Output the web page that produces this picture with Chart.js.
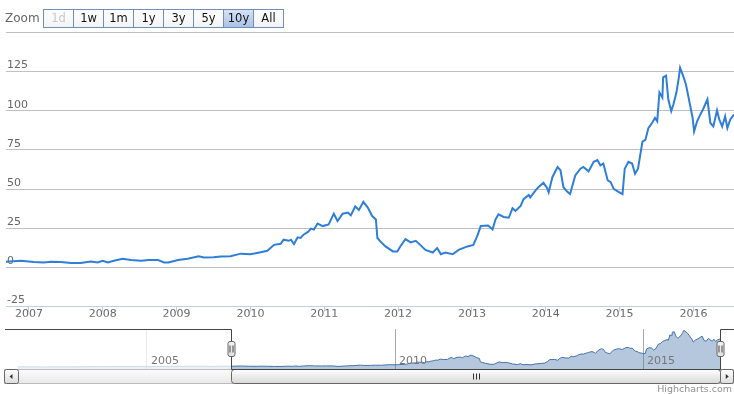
<!DOCTYPE html>
<html>
<head>
<meta charset="utf-8">
<script src="https://cdn.jsdelivr.net/npm/chart.js@4.4.1/dist/chart.umd.min.js"></script>
<style>
  body { margin: 0; background: #fff; }
  #box { position: relative; width: 734px; height: 394px; overflow: hidden; font-family: "DejaVu Sans", sans-serif; }
  #main { position: absolute; left: 0; top: 0; }
  #nav { position: absolute; left: 0; top: 320px; }
  .zlabel { position: absolute; left: 5px; top: 10px; font-size: 12px; line-height: 16px; color: #666; }
  .zbtn { position: absolute; top: 9px; width: 31px; height: 19px; box-sizing: border-box; border: 1px solid #6f8fb8;
          background: linear-gradient(#ffffff, #f3f3f3); font-size: 11.5px; line-height: 17px; text-align: center; color: #111; }
  .zbtn.on { background: linear-gradient(#d6e2f4, #a9c2e6); }
  .zbtn.off { color: #c8c8c8; }
  #credit { position: absolute; right: 2px; top: 383px; font-size: 9.5px; color: #909090; }
</style>
</head>
<body>
<div id="box">
  <canvas id="main" width="734" height="320"></canvas>
  <canvas id="nav" width="734" height="74"></canvas>
  <div class="zlabel">Zoom</div>
  <div id="zoom"></div>
  <div id="credit">Highcharts.com</div>
</div>
<script>
// decimal years, values (first few only show in the navigator)
const years = [
  2002.40, 2002.90, 2003.40, 2003.90, 2004.40, 2004.90, 2005.40, 2005.90, 2006.30,
  2006.69, 2006.89, 2007.07, 2007.20, 2007.30, 2007.43, 2007.57, 2007.70, 2007.84, 2007.93,
  2008.00, 2008.07, 2008.15, 2008.27, 2008.38, 2008.52, 2008.62, 2008.75, 2008.83, 2008.89,
  2009.02, 2009.15, 2009.30, 2009.37, 2009.50, 2009.60, 2009.73, 2009.87,
  2010.00, 2010.07, 2010.14, 2010.23, 2010.32, 2010.41, 2010.45, 2010.52, 2010.55, 2010.59,
  2010.64, 2010.68, 2010.72, 2010.78, 2010.82, 2010.86, 2010.91, 2010.98,
  2011.06, 2011.13, 2011.18, 2011.25, 2011.32, 2011.36, 2011.42, 2011.47, 2011.53, 2011.59,
  2011.65, 2011.70, 2011.72, 2011.76, 2011.83, 2011.93, 2011.99,
  2012.03, 2012.10, 2012.17, 2012.24, 2012.30, 2012.37, 2012.47, 2012.53, 2012.58, 2012.64,
  2012.74, 2012.82, 2012.94,
  2013.02, 2013.08, 2013.12, 2013.22, 2013.28, 2013.32, 2013.36, 2013.43, 2013.50, 2013.55,
  2013.59, 2013.66, 2013.70, 2013.77, 2013.79, 2013.86, 2013.90, 2013.97,
  2014.02, 2014.04, 2014.09, 2014.16, 2014.20, 2014.24, 2014.29, 2014.33, 2014.40, 2014.47,
  2014.51, 2014.58, 2014.65, 2014.70, 2014.74, 2014.78, 2014.84, 2014.88, 2014.92, 2014.98,
  2015.04, 2015.07, 2015.12, 2015.17, 2015.21, 2015.25, 2015.31, 2015.35, 2015.39, 2015.44,
  2015.48, 2015.51, 2015.54, 2015.58, 2015.59, 2015.63, 2015.66, 2015.70, 2015.73, 2015.77,
  2015.80, 2015.82, 2015.86, 2015.90, 2015.93, 2015.99,
  2016.01, 2016.05, 2016.09, 2016.13, 2016.19, 2016.23, 2016.27, 2016.32, 2016.35, 2016.39,
  2016.43, 2016.46, 2016.50, 2016.55
];
const prices = [
  1.5, 1.2, 1.4, 2.0, 2.6, 3.2, 2.9, 3.5, 3.3,
  3.7, 4.3, 3.4, 3.2, 3.7, 3.4, 2.8, 2.8, 3.7, 3.2,
  4.3, 3.2, 4.3, 5.6, 4.7, 4.3, 4.7, 4.7, 3.2, 3.2,
  4.7, 5.6, 7.1, 6.3, 6.5, 7.0, 7.1, 8.8,
  8.4, 9.0, 9.7, 10.6, 14.4, 15.1, 17.7, 17.0, 17.7, 14.9,
  19.2, 18.8, 20.9, 22.7, 24.8, 24.2, 28.0, 26.4,
  27.4, 34.3, 29.6, 34.3, 35.0, 33.2, 38.9, 36.7, 41.9, 38.2,
  32.8, 30.6, 18.8, 16.6, 13.4, 10.2, 10.2,
  13.4, 18.1, 16.0, 17.0, 14.4, 11.2, 9.5, 12.3, 8.4, 9.5,
  8.4, 11.2, 13.4,
  14.4, 20.9, 26.4, 26.8, 24.2, 30.6, 33.9, 32.2, 31.7, 37.8,
  36.1, 39.3, 43.6, 46.2, 44.7, 49.0, 51.2, 54.0,
  50.5, 47.9, 57.6, 64.1, 62.0, 51.2, 48.4, 46.8, 58.7, 63.0,
  64.1, 61.3, 67.4, 68.5, 65.2, 66.3, 55.5, 54.4, 50.1, 48.4,
  46.8, 63.0, 67.4, 66.3, 59.8, 63.0, 80.3, 81.4, 88.9, 92.2,
  95.4, 93.3, 111.6, 108.4, 121.3, 122.4, 107.3, 99.7, 104.1, 111.6,
  120.3, 127.4, 122.4, 116.6, 109.5, 95.4,
  86.8, 93.3, 97.2, 100.8, 107.3, 92.2, 90.0, 100.2, 94.4, 90.0,
  96.5, 88.9, 94.4, 97.6
];
const xTicks = [2007, 2008, 2009, 2010, 2011, 2012, 2013, 2014, 2015, 2016];
const yTicks = [-25, 0, 25, 50, 75, 100, 125, 150];
const navTicks = [2005, 2010, 2015];
const zoomButtons = ['1d', '1w', '1m', '1y', '3y', '5y', '10y', 'All'];
const selectedButton = '10y';
const rangeStart = 2006.69;
const rangeEnd = 2016.55;

const FONT = '"DejaVu Sans", sans-serif';
Chart.defaults.font.family = FONT;
Chart.defaults.font.size = 11;
Chart.defaults.color = '#666';

// range selector buttons
const zoom = document.getElementById('zoom');
zoomButtons.forEach((txt, i) => {
  const b = document.createElement('div');
  b.className = 'zbtn' + (txt === selectedButton ? ' on' : '') + (txt === '1d' ? ' off' : '');
  b.style.left = (43 + i * 30) + 'px';
  b.textContent = txt;
  zoom.appendChild(b);
});

const points = years.map((x, i) => ({ x: x, y: prices[i] }));

new Chart(document.getElementById('main'), {
  type: 'line',
  data: {
    datasets: [{
      data: points,
      borderColor: '#2f7ed8',
      borderWidth: 2,
      pointRadius: 0,
      tension: 0,
      fill: false
    }]
  },
  options: {
    responsive: false,
    animation: false,
    devicePixelRatio: 1,
    layout: { padding: { left: 4, right: 0, top: 32.4, bottom: 3.2 } },
    plugins: { legend: { display: false }, tooltip: { enabled: false } },
    scales: {
      x: {
        type: 'linear',
        min: rangeStart,
        max: rangeEnd,
        afterBuildTicks: s => { s.ticks = xTicks.map(v => ({ value: v })); },
        ticks: { padding: -4, maxRotation: 0, autoSkip: false, callback: v => String(v) },
        grid: { drawOnChartArea: false, drawTicks: true, tickLength: 5, color: '#C0D0E0' },
        border: { color: '#C0D0E0' }
      },
      y: {
        min: -25,
        max: 150,
        afterBuildTicks: s => { s.ticks = yTicks.map(v => ({ value: v })); },
        ticks: { mirror: true, padding: 1, labelOffset: -6, autoSkip: false,
                 callback: v => (v === 150 ? '' : String(v)) },
        grid: { color: '#C0C0C0', drawTicks: false },
        border: { display: false }
      }
    }
  }
});

function rrect(ctx, x, y, w, h, r, top, bottom) {
  const g = ctx.createLinearGradient(0, y, 0, y + h);
  g.addColorStop(0, top);
  g.addColorStop(1, bottom);
  ctx.beginPath();
  ctx.roundRect(x, y, w, h, r);
  ctx.fillStyle = g;
  ctx.fill();
  ctx.strokeStyle = '#666';
  ctx.stroke();
}

// mask, outline, handles and scrollbar under the navigator series
const navDecor = {
  id: 'navDecor',
  afterDraw(chart) {
    const { ctx, chartArea: a, scales: { x } } = chart;
    const W = chart.width;
    const x1 = Math.round(x.getPixelForValue(rangeStart)) + 0.5;
    const x2 = Math.round(x.getPixelForValue(rangeEnd)) + 0.5;
    ctx.save();
    ctx.lineWidth = 1;

    ctx.fillStyle = 'rgba(255,255,255,0.75)';
    ctx.fillRect(5, a.top, x1 - 5, a.bottom - a.top);
    ctx.fillRect(x2, a.top, W - x2, a.bottom - a.top);

    ctx.fillStyle = '#777';
    ctx.font = '11px ' + FONT;
    ctx.textBaseline = 'middle';
    ctx.textAlign = 'left';
    navTicks.forEach(v => ctx.fillText(String(v), x.getPixelForValue(v) + 4, a.bottom - 8));

    // scrollbar
    const sy = a.bottom + 0.5, sh = 14;
    const tg = ctx.createLinearGradient(0, sy, 0, sy + sh);
    tg.addColorStop(0, '#fcfcfc');
    tg.addColorStop(1, '#e8e8e8');
    ctx.fillStyle = tg;
    ctx.fillRect(4.5, sy, W - 5, sh);
    ctx.strokeStyle = '#bbb';
    ctx.strokeRect(4.5, sy, W - 5, sh);

    rrect(ctx, 4.5, sy, 14, sh, 2, '#ffffff', '#dcdcdc');
    rrect(ctx, x2, sy, W - 0.5 - x2, sh, 2, '#ffffff', '#dcdcdc');
    rrect(ctx, x1, sy, x2 - x1, sh, 3, '#ffffff', '#d8d8d8');

    ctx.fillStyle = '#333';
    ctx.beginPath();
    ctx.moveTo(9.5, sy + 7); ctx.lineTo(12.5, sy + 4.5); ctx.lineTo(12.5, sy + 9.5); ctx.closePath();
    ctx.fill();
    const rx = (x2 + W) / 2;
    ctx.beginPath();
    ctx.moveTo(rx + 1.5, sy + 7); ctx.lineTo(rx - 1.5, sy + 4.5); ctx.lineTo(rx - 1.5, sy + 9.5); ctx.closePath();
    ctx.fill();

    const cx = Math.round((x1 + x2) / 2) + 0.5;
    ctx.strokeStyle = '#333';
    ctx.beginPath();
    [-3, 0, 3].forEach(d => { ctx.moveTo(cx + d, sy + 4); ctx.lineTo(cx + d, sy + 10); });
    ctx.stroke();

    // outline
    const ty = a.top + 0.5;
    ctx.strokeStyle = '#444';
    ctx.beginPath();
    ctx.moveTo(5, ty);
    ctx.lineTo(x1, ty);
    ctx.lineTo(x1, sy);
    ctx.lineTo(x2, sy);
    ctx.lineTo(x2, ty);
    ctx.lineTo(W, ty);
    ctx.stroke();

    // handles
    [x1, x2].forEach(hx => {
      const hy = a.top + 12.5;
      rrect(ctx, hx - 3.5, hy, 7, 15, 2, '#f2f0f0', '#e4e1e2');
      ctx.strokeStyle = '#444';
      ctx.beginPath();
      ctx.moveTo(hx - 1.5, hy + 4); ctx.lineTo(hx - 1.5, hy + 11);
      ctx.moveTo(hx + 1.5, hy + 4); ctx.lineTo(hx + 1.5, hy + 11);
      ctx.stroke();
    });
    ctx.restore();
  }
};

new Chart(document.getElementById('nav'), {
  type: 'line',
  data: {
    datasets: [{
      data: points,
      borderColor: '#4572A7',
      borderWidth: 1,
      backgroundColor: 'rgba(69,114,167,0.4)',
      fill: 'start',
      pointRadius: 0,
      tension: 0
    }]
  },
  options: {
    responsive: false,
    animation: false,
    devicePixelRatio: 1,
    layout: { padding: { left: 18, right: 14, top: 9, bottom: 25 } },
    plugins: { legend: { display: false }, tooltip: { enabled: false } },
    scales: {
      x: {
        type: 'linear',
        min: years[0],
        max: years[years.length - 1],
        afterBuildTicks: s => { s.ticks = navTicks.map(v => ({ value: v })); },
        ticks: { display: false },
        grid: { color: '#aaa', drawTicks: false },
        border: { display: false }
      },
      y: { display: false, min: -6, max: 132 }
    }
  }
  ,
  plugins: [navDecor]
});
</script>
</body>
</html>
